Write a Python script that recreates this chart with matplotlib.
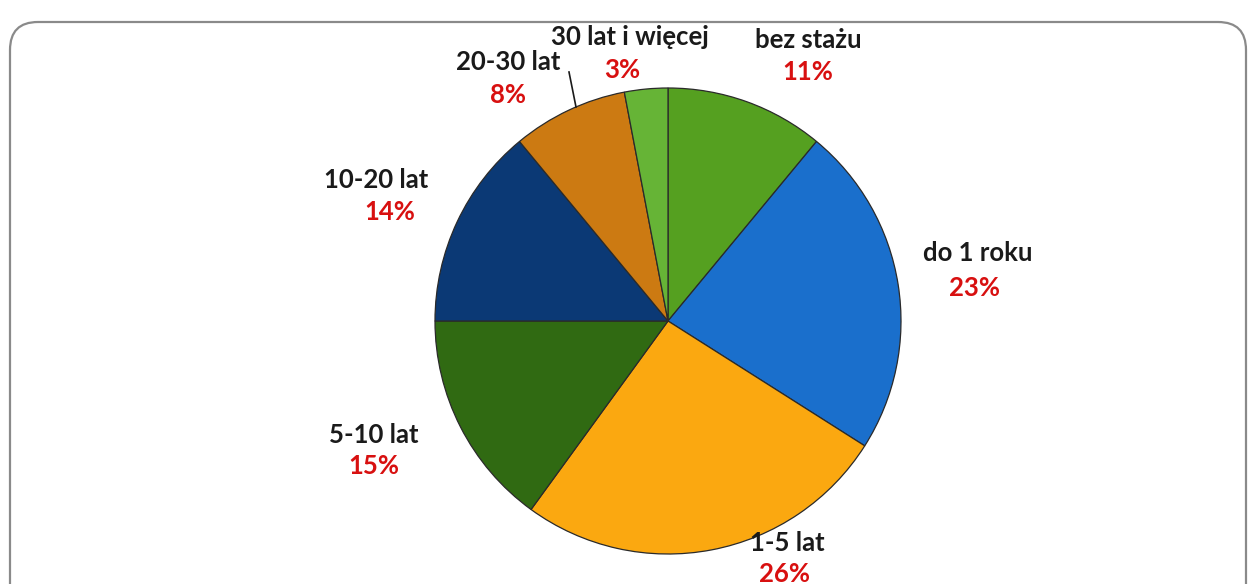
import matplotlib.pyplot as plt
from matplotlib.patches import FancyBboxPatch

categories = ["bez stażu", "do 1 roku", "1-5 lat", "5-10 lat", "10-20 lat", "20-30 lat", "30 lat i więcej"]
shares = [11, 23, 26, 15, 14, 8, 3]
colors = ["#55a020", "#1a6fcc", "#fba810", "#306a12", "#0b3975", "#cc7a12", "#66b436"]

# label anchor positions in pixels (label text, percent below)
label_pos = [(808, 40), (978, 253), (787, 543), (374, 435), (376, 180), (508, 62), (630, 37)]
pct_pos = [(808, 72), (975, 288), (785, 574), (374, 466), (390, 212), (508, 95), (622, 70)]

fig = plt.figure(figsize=(12.52, 5.84), dpi=100)
ax = fig.add_axes([0, 0, 1, 1])

frame = FancyBboxPatch((10, 22), 1236, 600, boxstyle="round,pad=0,rounding_size=28",
                       fill=False, edgecolor="#8a8a8a", linewidth=1.6)
ax.add_patch(frame)

# y axis is inverted below, so counterclockwise in data = clockwise on screen
ax.pie(shares, colors=colors, startangle=-90, counterclock=True,
       center=(668, 321), radius=233, frame=True,
       wedgeprops=dict(edgecolor="#2a2a2a", linewidth=0.9))
ax.set_xlim(0, 1252)
ax.set_ylim(584, 0)
ax.set_aspect("equal")
ax.axis("off")

for name, share, (lx, ly), (px, py) in zip(categories, shares, label_pos, pct_pos):
    ax.text(lx, ly, name, ha="center", va="center", fontsize=18.5, fontweight="bold",
            family="Lato", color="#1a1a1a")
    ax.text(px, py, f"{share}%", ha="center", va="center", fontsize=18.5, fontweight="bold",
            family="Lato", color="#d81010")

# leader line for 20-30 lat
ax.plot([569, 576], [72, 107], color="#1a1a1a", linewidth=1.2)

fig.savefig("out.png", dpi=100)
